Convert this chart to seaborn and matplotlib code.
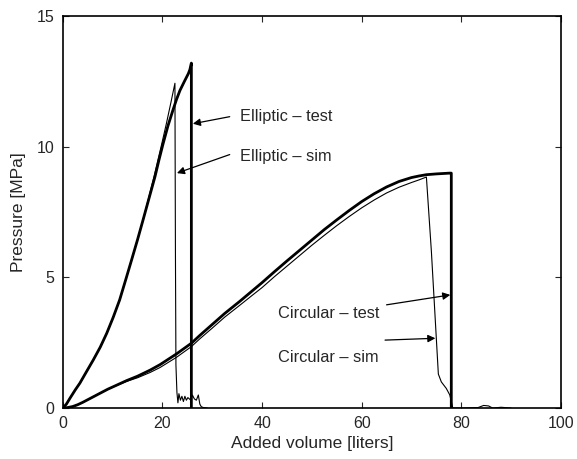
import matplotlib
matplotlib.use("Agg")
import matplotlib.pyplot as plt
import pandas as pd
import seaborn as sns

# Elliptic vessel, measured
ell_test_x = [0, 0.7, 1.5, 2.5, 3.4, 4.7, 6.1, 7.5, 8.8, 10.1, 11.4, 12.6, 13.8, 15.0,
              16.1, 17.3, 18.5, 19.3, 20.1, 21.1, 22.1, 22.8, 23.5, 24.4, 25.2, 25.5,
              25.8, 25.8, 25.8]
ell_test_y = [0, 0.15, 0.4, 0.7, 0.95, 1.38, 1.84, 2.33, 2.86, 3.47, 4.14, 4.9, 5.67,
              6.45, 7.2, 8.03, 8.86, 9.5, 10.1, 10.8, 11.4, 11.8, 12.15, 12.5, 12.8,
              12.95, 13.2, 6.0, 0]

# Elliptic vessel, simulation (incl. noisy tail after burst)
ell_sim_x = [0, 0.7, 1.5, 2.5, 3.4, 4.7, 6.1, 7.5, 8.8, 10.1, 11.4, 12.6, 13.8, 15.0,
             16.1, 17.2, 18.3, 19.1, 19.9, 20.8, 21.7, 22.5, 22.6, 22.7,
             22.9, 23.1, 23.3, 23.6, 23.9, 24.2, 24.5, 24.8, 25.1, 25.4, 25.7, 26.0,
             26.4, 26.8, 27.2, 27.5, 27.8, 28.2, 29.0]
ell_sim_y = [0, 0.15, 0.4, 0.7, 0.95, 1.38, 1.84, 2.33, 2.86, 3.47, 4.14, 4.9, 5.67,
             6.45, 7.2, 8.03, 8.86, 9.5, 10.15, 10.9, 11.7, 12.43, 6.0, 1.65,
             0.6, 0.2, 0.55, 0.3, 0.45, 0.25, 0.45, 0.3, 0.4, 0.35, 0.3, 0.5,
             0.35, 0.3, 0.5, 0.15, 0.05, 0.02, 0]

# Circular vessel, measured
circ_test_x = [0, 1, 2, 3, 4, 5, 6.1, 7.5, 9, 10.5, 12.8, 15, 17.5, 19.5, 22.8, 25.8,
               27.5, 30, 32.5, 35.5, 38, 40, 42.5, 45, 47.5, 50, 52.5, 55, 57.5, 60,
               62.5, 65, 67.5, 70, 71.5, 73, 75, 77.7, 78.0, 78.0]
circ_test_y = [0, 0.02, 0.06, 0.13, 0.22, 0.32, 0.43, 0.57, 0.72, 0.85, 1.05, 1.22,
               1.45, 1.66, 2.07, 2.48, 2.78, 3.2, 3.62, 4.08, 4.48, 4.8, 5.22, 5.63,
               6.03, 6.43, 6.83, 7.2, 7.56, 7.9, 8.2, 8.46, 8.67, 8.82, 8.88, 8.93,
               8.96, 8.99, 8.99, 0]

# Circular vessel, simulation
circ_sim_x = [0, 1, 2, 3, 4, 5, 6.1, 7.5, 9, 10.5, 12.8, 15, 17.5, 19.5, 22.8, 25.8,
              27.5, 30, 32.5, 35.5, 38, 40, 42.5, 45, 47.5, 50, 52.5, 55, 57.5, 60,
              62.5, 65, 67.5, 70, 71.5, 73, 74, 75.4, 76, 77.0, 77.7, 78.3, 80,
              83.4, 84.5, 85.5, 86.3, 88, 90]
circ_sim_y = [0, 0.02, 0.06, 0.13, 0.22, 0.32, 0.43, 0.57, 0.72, 0.84, 1.02, 1.16,
              1.36, 1.55, 1.94, 2.35, 2.65, 3.06, 3.48, 3.93, 4.31, 4.61, 5.03, 5.43,
              5.83, 6.23, 6.61, 6.98, 7.33, 7.66, 7.96, 8.23, 8.45, 8.63, 8.73, 8.84,
              6.0, 1.3, 1.0, 0.75, 0.5, 0, 0, 0.02, 0.1, 0.08, 0.0, 0.03, 0]

labels = ["Elliptic \u2013 test", "Elliptic \u2013 sim",
          "Circular \u2013 test", "Circular \u2013 sim"]
label_xy = [(35.6, 11.15), (35.6, 9.62), (43.1, 3.6), (43.1, 1.92)]
arrow_tail = [(33.5, 11.15), (33.5, 9.7), (65.0, 3.95), (64.7, 2.6)]
arrow_head = [(26.1, 10.88), (22.9, 8.99), (77.8, 4.33), (74.8, 2.67)]

sns.set_style("ticks")
plt.rcParams["font.family"] = ["Liberation Sans", "DejaVu Sans"]
plt.rcParams["xtick.direction"] = "in"
plt.rcParams["ytick.direction"] = "in"

fig = plt.figure(figsize=(5.77, 4.59), dpi=100)
ax = fig.add_axes([0.109, 0.111, 0.863, 0.854])

series = [
    (ell_test_x, ell_test_y, 2.0),
    (ell_sim_x, ell_sim_y, 0.8),
    (circ_test_x, circ_test_y, 2.0),
    (circ_sim_x, circ_sim_y, 0.8),
]
for xs, ys, lw in series:
    df = pd.DataFrame({"v": xs, "p": ys})
    sns.lineplot(data=df, x="v", y="p", sort=False, estimator=None,
                 color="black", linewidth=lw, ax=ax)

for txt, (tx, ty), tail, head in zip(labels, label_xy, arrow_tail, arrow_head):
    ax.text(tx, ty, txt, fontsize=11.8, va="center", ha="left")
    ax.annotate("", xy=head, xytext=tail,
                arrowprops=dict(arrowstyle="-|>", color="black", lw=0.9,
                                mutation_scale=11, shrinkA=0, shrinkB=0))

ax.set_xlim(0, 100)
ax.set_ylim(0, 15)
ax.set_xticks([0, 20, 40, 60, 80, 100])
ax.set_yticks([0, 5, 10, 15])
ax.tick_params(top=True, right=True, labelsize=11.5, length=4, width=0.8,
               direction="in", pad=6)
for s in ax.spines.values():
    s.set_linewidth(1.2)
    s.set_color("black")
ax.set_xlabel("Added volume [liters]", fontsize=12.5, labelpad=3)
ax.set_ylabel("Pressure [MPa]", fontsize=12.5, labelpad=8)

fig.savefig("out.png", dpi=100)
